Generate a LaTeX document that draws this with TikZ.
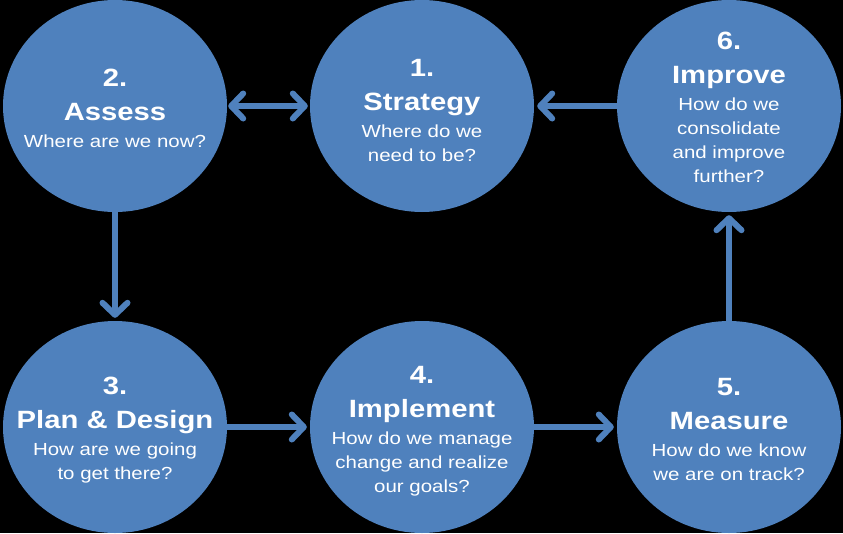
\documentclass[tikz,border=0pt]{standalone}
\usepackage{fontspec}
\setmainfont{Liberation Sans}[FakeStretch=1.17]
\usetikzlibrary{arrows.meta,shapes.geometric}
\definecolor{oblue}{RGB}{79,129,189}
\newcommand\stagetitle[1]{{\bfseries\fontsize{25}{30}\selectfont #1}}
\tikzset{
  stage/.style={ellipse, fill=oblue, minimum width=224pt, minimum height=212pt, inner sep=0pt},
  stagetext/.style={text=white, align=center, inner sep=0pt, font=\fontsize{17.5}{24}\selectfont},
  flow/.style={draw=oblue, line width=6pt, -{Straight Barb[round,length=12pt,width=25pt]}},
  flowboth/.style={draw=oblue, line width=6pt, {Straight Barb[round,length=12pt,width=25pt]}-{Straight Barb[round,length=12pt,width=25pt]}}
}
\begin{document}
\begin{tikzpicture}[x=1pt,y=-1pt]
  \fill[black] (0,0) rectangle (843,533);
  \useasboundingbox (0,0) rectangle (843,533);
  \node[stage] (e2) at (115,106) {};
  \node[stage] (e1) at (422,106) {};
  \node[stage] (e6) at (729,106) {};
  \node[stage] (e3) at (115,427) {};
  \node[stage] (e4) at (422,427) {};
  \node[stage] (e5) at (729,427) {};

  \node[stagetext] (t2) at ([yshift=-2pt]e2.center) {\stagetitle{2.}\\[10pt]\stagetitle{Assess}\\[3pt]Where are we now?};
  \node[stagetext] (t1) at ([yshift=-4pt]e1.center) {\stagetitle{1.}\\[10pt]\stagetitle{Strategy}\\[3pt]Where do we\\need to be?};
  \node[stagetext] (t6) at ([yshift=-1pt]e6.center) {\stagetitle{6.}\\[10pt]\stagetitle{Improve}\\[3pt]How do we\\consolidate\\and improve\\further?};
  \node[stagetext] (t3) at ([yshift=-3pt]e3.center) {\stagetitle{3.}\\[10pt]\stagetitle{Plan \& Design}\\[3pt]How are we going\\to get there?};
  \node[stagetext] (t4) at ([yshift=-4pt]e4.center) {\stagetitle{4.}\\[10pt]\stagetitle{Implement}\\[3pt]How do we manage\\change and realize\\our goals?};
  \node[stagetext] (t5) at ([yshift=-2pt]e5.center) {\stagetitle{5.}\\[10pt]\stagetitle{Measure}\\[3pt]How do we know\\we are on track?};

  \draw[flowboth, shorten <=1pt, shorten >=2pt] (e2) -- (e1);
  \draw[flow, shorten >=3pt] (e6) -- (e1);
  \draw[flow, shorten >=3pt] (e2) -- (e3);
  \draw[flow, shorten >=3pt] (e3) -- (e4);
  \draw[flow, shorten >=3pt] (e4) -- (e5);
  \draw[flow, shorten >=3pt] (e5) -- (e6);
\end{tikzpicture}
\end{document}
